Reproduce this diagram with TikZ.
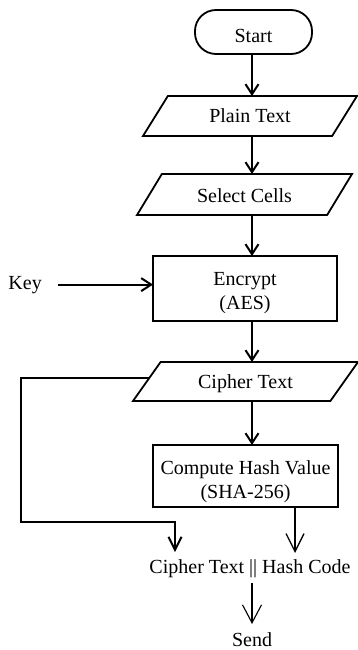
\documentclass[tikz,border=0pt]{standalone}
\usepackage{fontspec}
\setmainfont{Liberation Serif}
\usetikzlibrary{shapes.geometric,arrows.meta,calc}
\newcommand{\lowtext}[2]{\raisebox{-#1}[\height][\depth]{\begin{tabular}{@{}c@{}}#2\end{tabular}}}
\begin{document}
\begin{tikzpicture}[x=1pt,y=1pt,
  every node/.style={font=\fontsize{20}{24}\selectfont, inner sep=0pt, outer sep=0pt},
  boxnode/.style={draw, line width=1.8pt, rectangle, align=center},
  termnode/.style={draw, line width=1.8pt, rectangle, rounded corners=21pt},
  ionode/.style={draw, line width=1.8pt, trapezium, trapezium stretches body,
    trapezium left angle=#1, trapezium right angle=180-#1},
  flow/.style={line width=2pt, -{Straight Barb[length=10pt,width=13pt]}},
  flowlong/.style={line width=2pt, -{Straight Barb[length=13pt,width=13pt]}},
  thinflow/.style={line width=1.3pt, -{Straight Barb[length=18pt,width=18pt]}},
  thinnerflow/.style={line width=1.1pt, -{Straight Barb[length=18pt,width=19pt]}},
]
\useasboundingbox (0,0) rectangle (358,-650);

\node[termnode, minimum width=117pt, minimum height=44pt] (start) at (253.5,-32) {\lowtext{6pt}{Start}};
\node[ionode=44, minimum width=214pt, minimum height=40pt] (plain) at (250,-116) {\lowtext{2pt}{Plain Text}};
\node[ionode=44, minimum width=215pt, minimum height=41pt] (sel) at (244.5,-194.5) {\lowtext{3.5pt}{Select Cells}};
\node[boxnode, minimum width=184pt, minimum height=65pt] (enc) at (245,-288.5) {\lowtext{4.5pt}{Encrypt\\(AES)}};
\node[ionode=41, minimum width=225pt, minimum height=39pt] (ciph) at (245.5,-381.5) {\lowtext{1.7pt}{Cipher Text}};
\node[boxnode, minimum width=185pt, minimum height=62pt] (hash) at (245.5,-476) {\lowtext{6pt}{Compute Hash Value\\(SHA-256)}};

\node[anchor=base west] (key) at (8.5,-289) {Key};
\node[anchor=base] (out) at (250,-573) {Cipher Text || Hash Code};
\node[anchor=base] (send) at (252,-646.5) {Send};

\coordinate (ax) at (252,0);
\coordinate (hx) at (295,-553);
\coordinate (lx) at (21,-522);
\coordinate (tipL) at (175,-552);
\coordinate (sendtip) at (252,-624);
\coordinate (cl) at ($(ciph.bottom left corner)!0.59!(ciph.top left corner)$);

\draw[flow] (start.south -| ax) -- (plain.north -| ax);
\draw[flow] (plain.south -| ax) -- (sel.north -| ax);
\draw[flow] (sel.south -| ax) -- (enc.north -| ax);
\draw[flow] (enc.south -| ax) -- (ciph.north -| ax);
\draw[flow] (ciph.south -| ax) -- (hash.north -| ax);
\draw[flow] ([xshift=16pt]key.east) -- (key.east -| enc.west);

\draw[flowlong] (cl) -- (cl -| lx) -- (lx) -- (lx -| tipL) -- (tipL);
\draw[thinflow] (hash.south -| hx) -- (hx);
\draw[thinnerflow] ([yshift=-5.5pt]out.south -| sendtip) -- (sendtip);
\end{tikzpicture}
\end{document}
